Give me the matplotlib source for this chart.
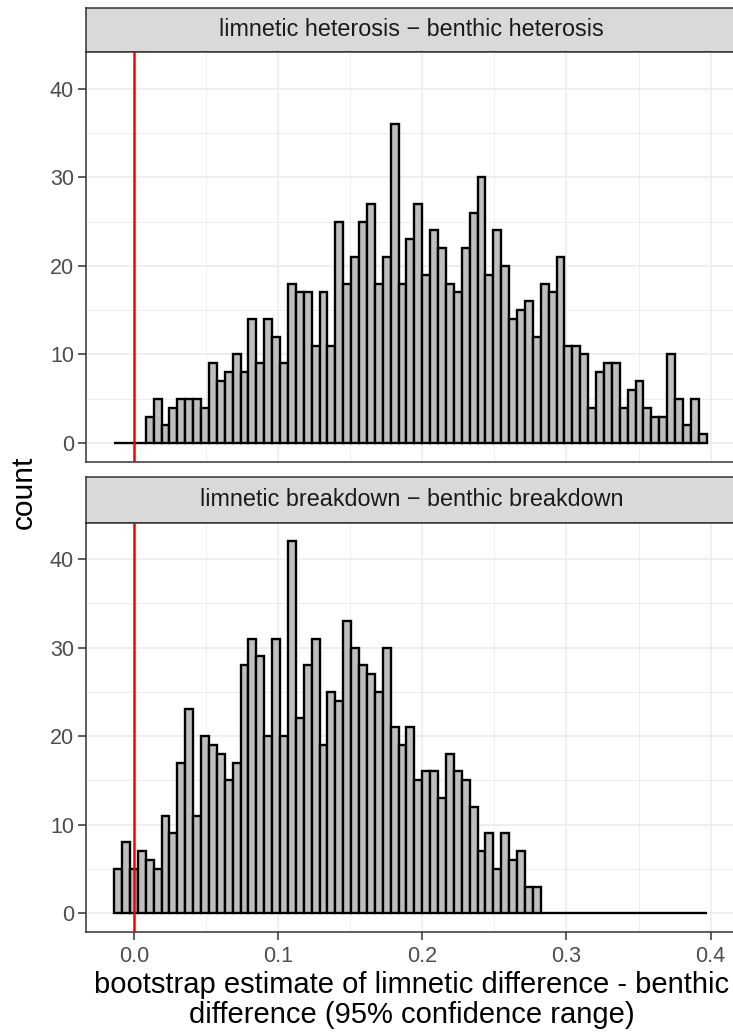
import numpy as np
import matplotlib
matplotlib.use('Agg')
import matplotlib.pyplot as plt
from matplotlib.ticker import MultipleLocator

plt.rcParams['font.family'] = ['Liberation Sans', 'DejaVu Sans']

# histogram counts (75 bins over the shared x range)
heterosis_counts = [0, 0, 0, 0,
                    3, 5, 2, 4, 5, 5, 5, 4, 9, 7, 8, 10, 8, 14, 9, 14, 12, 9, 18, 17, 17,
                    11, 17, 11, 25, 18, 21, 25, 27, 18, 21, 36, 18, 23, 27, 19, 24, 22, 18,
                    17, 22, 26, 30, 19, 24, 20, 14, 15,
                    16, 12, 18, 17, 21, 11, 11, 10, 4, 8, 9, 9, 4, 6, 7, 4, 3, 3, 10, 5, 2, 5, 1]
breakdown_counts = [5, 8, 5, 7, 6, 5, 11, 9, 17, 23, 11, 20, 19, 18, 15, 17, 28, 31, 29, 20,
                    31, 20, 42, 22, 28,
                    31, 19, 25, 24, 33, 30, 28, 27, 25, 30, 21, 19, 21, 15, 16, 16, 13, 18,
                    16, 15, 12, 7, 9, 5, 9, 6, 7, 3, 3] + [0] * 21
bin_lo, bin_hi, n_bins = -0.0138, 0.3972, 75
panel_titles = ['limnetic heterosis \u2212 benthic heterosis',
                'limnetic breakdown \u2212 benthic breakdown']
x_ticks = [0.0, 0.1, 0.2, 0.3, 0.4]
y_ticks = [0, 10, 20, 30, 40]

W, H = 733, 1036
fig = plt.figure(figsize=(W / 100, H / 100), dpi=100)


def box(left, top, right, bottom):
    return [left / W, 1 - bottom / H, (right - left) / W, (bottom - top) / H]


edges = np.linspace(bin_lo, bin_hi, n_bins + 1)
width = edges[1] - edges[0]

panels = [(7.7, 52.3, 461.7, heterosis_counts, False),
          (477.3, 522.7, 931.7, breakdown_counts, True)]

for (strip_top, top, bottom, counts, show_x), title in zip(panels, panel_titles):
    # facet strip
    sax = fig.add_axes(box(85.7, strip_top, 737.6, top))
    sax.set_facecolor('#D9D9D9')
    sax.set_xticks([])
    sax.set_yticks([])
    for sp in sax.spines.values():
        sp.set_color('#333333')
        sp.set_linewidth(1.1)
    fig.text((85.7 + 737.6) / 2 / W, 1 - (strip_top + top) / 2 / H, title,
             ha='center', va='center', fontsize=16.8, color='#1A1A1A')

    ax = fig.add_axes(box(85.7, top, 737.6, bottom))
    ax.set_axisbelow(True)
    ax.bar(edges[:-1], counts, width=width, align='edge', color='#BEBEBE',
           edgecolor='black', linewidth=1.7, zorder=2)
    ax.axvline(0, color='#FF0000', linewidth=1.8, zorder=3)
    ax.set_xlim(-0.0335, 0.4187)
    ax.set_ylim(-2.1, 44.1)
    ax.set_xticks(x_ticks)
    ax.xaxis.set_minor_locator(MultipleLocator(0.05))
    ax.set_yticks(y_ticks)
    ax.yaxis.set_minor_locator(MultipleLocator(5))
    ax.grid(True, which='major', color='#EBEBEB', linewidth=1.1)
    ax.grid(True, which='minor', color='#EBEBEB', linewidth=0.6)
    ax.tick_params(which='minor', length=0)
    ax.tick_params(which='major', length=5.5, width=1.1, color='#333333',
                   labelsize=15.5, labelcolor='#4D4D4D', pad=3)
    ax.tick_params(axis='x', pad=5)
    if show_x:
        ax.set_xticklabels(['%.1f' % t for t in x_ticks])
    else:
        ax.tick_params(axis='x', which='major', length=0, labelbottom=False)
    for sp in ax.spines.values():
        sp.set_color('#333333')
        sp.set_linewidth(1.1)

fig.text(24 / W, 1 - 492 / H, 'count', rotation=90, ha='center', va='center',
         fontsize=21.5, color='black')
fig.text((85.7 + 737.6) / 2 / W, 1 - 1000 / H,
         'bootstrap estimate of limnetic difference - benthic\ndifference (95% confidence range)',
         ha='center', va='center', fontsize=21, color='black', linespacing=1.08)

plt.savefig('out.png', dpi=100)
plt.close()
